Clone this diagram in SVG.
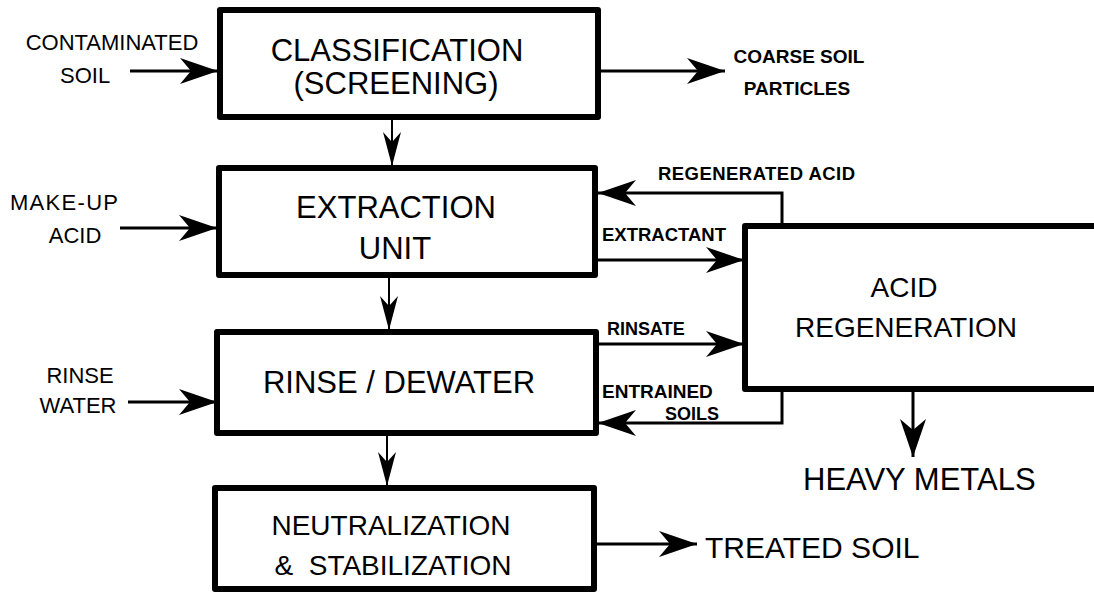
<svg xmlns="http://www.w3.org/2000/svg" width="1094" height="592" viewBox="0 0 1094 592">
<style>
.box{fill:#fff;stroke:#000;stroke-width:6;stroke-linejoin:round}
.big{font-family:"Liberation Sans",Arial,sans-serif;font-size:31px;fill:#000}
.mid{font-family:"Liberation Sans",Arial,sans-serif;font-size:28px;fill:#000}
.lbl{font-family:"Liberation Sans",Arial,sans-serif;font-size:22px;fill:#000}
.bl{font-family:"Liberation Sans",Arial,sans-serif;font-size:19px;font-weight:bold;fill:#000}
.c{fill:none;stroke:#000;stroke-width:3}
.cd{fill:none;stroke:#000;stroke-width:2}
</style>
<defs>
<marker id="ah" markerUnits="userSpaceOnUse" markerWidth="42" markerHeight="32" viewBox="-41 -16 42 32" refX="0" refY="0" orient="auto">
<path d="M0,0 L-38,-13 L-27,0 L-38,13 Z" fill="#000"/>
</marker>
<marker id="ahs" markerUnits="userSpaceOnUse" markerWidth="40" markerHeight="22" viewBox="-39 -11 40 22" refX="0" refY="0" orient="auto">
<path d="M0,0 L-34,-9 L-24,0 L-34,9 Z" fill="#000"/>
</marker>
</defs>
<rect width="1094" height="592" fill="#fff"/>
<g id="connectors">
<path class="c" d="M130,71 H218" marker-end="url(#ah)"/>
<path class="c" d="M598,71 H725" marker-end="url(#ah)"/>
<path class="cd" d="M392,117 V166" marker-end="url(#ahs)"/>
<path class="c" d="M782,224 V193 H598" marker-end="url(#ah)"/>
<path class="c" d="M120,228 H217" marker-end="url(#ah)"/>
<path class="c" d="M596,260 H744" marker-end="url(#ah)"/>
<path class="cd" d="M389,275 V330" marker-end="url(#ahs)"/>
<path class="c" d="M597,344 H744" marker-end="url(#ah)"/>
<path class="c" d="M128,402 H217" marker-end="url(#ah)"/>
<path class="c" d="M782,389 V423 H598" marker-end="url(#ah)"/>
<path class="c" d="M913,389 V457" marker-end="url(#ah)"/>
<path class="cd" d="M387,433 V486" marker-end="url(#ahs)"/>
<path class="c" d="M594,544 H697" marker-end="url(#ah)"/>
</g>
<g id="classification">
<rect class="box" x="220" y="10" width="378" height="107"/>
<text class="big" x="397" y="61" text-anchor="middle">CLASSIFICATION</text>
<text class="big" x="396" y="94" text-anchor="middle">(SCREENING)</text>
</g>
<g id="extraction">
<rect class="box" x="219" y="168" width="376" height="107"/>
<text class="big" x="396" y="218" text-anchor="middle">EXTRACTION</text>
<text class="big" x="395" y="259" text-anchor="middle">UNIT</text>
</g>
<g id="rinse">
<rect class="box" x="217" y="332" width="379" height="101"/>
<text class="big" x="399" y="393" text-anchor="middle">RINSE / DEWATER</text>
</g>
<g id="neutralization">
<rect class="box" x="215" y="488" width="379" height="101"/>
<text class="mid" x="391" y="535" text-anchor="middle">NEUTRALIZATION</text>
<text class="mid" x="393" y="575" text-anchor="middle" xml:space="preserve">&amp;  STABILIZATION</text>
</g>
<g id="acid-regeneration">
<rect class="box" x="745" y="226" width="360" height="163"/>
<text class="mid" x="904" y="297" text-anchor="middle">ACID</text>
<text class="mid" x="906" y="337" text-anchor="middle">REGENERATION</text>
</g>
<g id="contaminated-soil">
<text class="lbl" x="112" y="50" text-anchor="middle">CONTAMINATED</text>
<text class="lbl" x="60" y="83">SOIL</text>
</g>
<g id="make-up-acid">
<text class="lbl" x="64" y="210" text-anchor="middle" textLength="108">MAKE-UP</text>
<text class="lbl" x="75" y="243" text-anchor="middle">ACID</text>
</g>
<g id="rinse-water">
<text class="lbl" x="80" y="383" text-anchor="middle">RINSE</text>
<text class="lbl" x="78" y="413" text-anchor="middle">WATER</text>
</g>
<g id="coarse-soil">
<text class="bl" x="799" y="63" text-anchor="middle">COARSE SOIL</text>
<text class="bl" x="797" y="95" text-anchor="middle">PARTICLES</text>
</g>
<g id="labels">
<text class="bl" x="658" y="180" textLength="197" style="font-size:18.5px">REGENERATED ACID</text>
<text class="bl" x="602" y="241" style="font-size:18.5px">EXTRACTANT</text>
<text class="bl" x="607" y="335" style="font-size:18px">RINSATE</text>
<text class="bl" x="602" y="398">ENTRAINED</text>
<text class="bl" x="665" y="420" style="font-size:18px">SOILS</text>
</g>
<g id="heavy-metals">
<text class="big" x="803" y="490">HEAVY METALS</text>
</g>
<g id="treated-soil">
<text class="big" x="705" y="558" style="font-size:30px">TREATED SOIL</text>
</g>
</svg>
